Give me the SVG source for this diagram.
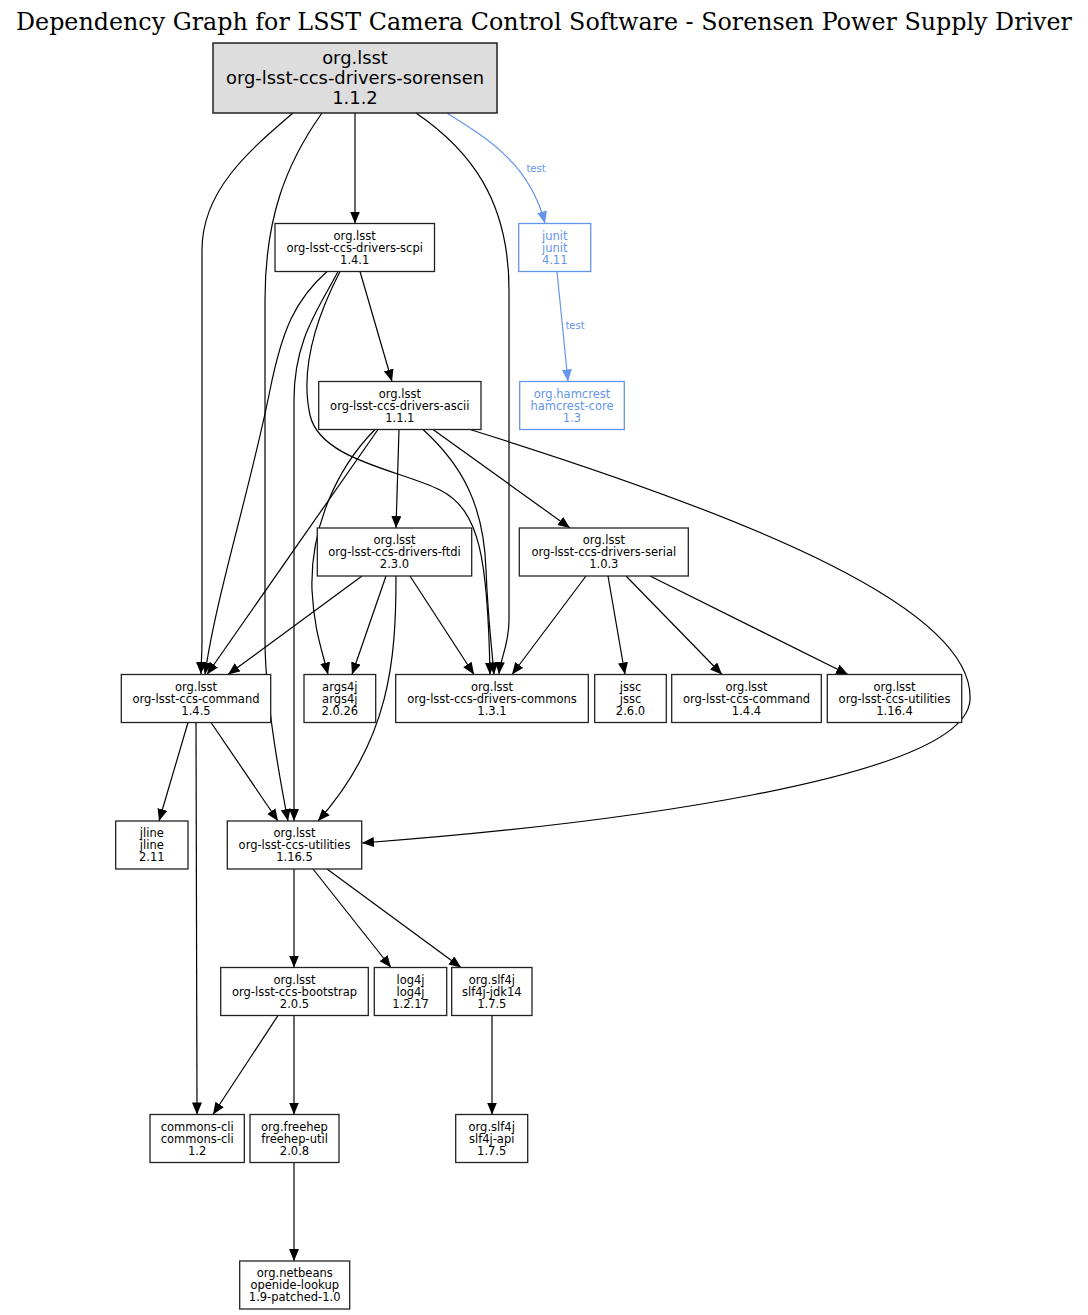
<svg xmlns="http://www.w3.org/2000/svg" width="1088" height="1315" viewBox="0 0 1088 1315">
<style>
.n rect{fill:#fff;stroke:#222;stroke-width:1.3}
.n text{font-family:"DejaVu Sans",sans-serif;font-size:11.5px;text-anchor:middle;fill:#000}
.root rect{fill:#dddddd;stroke:#222;stroke-width:1.5}
.root text{font-size:17.9px}
.b rect{stroke:#6495ED}
.b text{fill:#6495ED}
.e path{fill:none;stroke:#000;stroke-width:1.2;marker-end:url(#ah)}
.e path.bl{stroke:#6495ED;marker-end:url(#ahb)}
.lbl{font-family:"DejaVu Sans",sans-serif;font-size:10px;fill:#6495ED;text-anchor:middle}
.title{font-family:"DejaVu Serif",serif;font-size:23.5px;text-anchor:middle;fill:#000}
</style>
<defs>
<marker id="ah" markerUnits="userSpaceOnUse" markerWidth="13" markerHeight="11" refX="12" refY="5" orient="auto"><path d="M0,0 L12,5 L0,10 Z" fill="#000"/></marker>
<marker id="ahb" markerUnits="userSpaceOnUse" markerWidth="13" markerHeight="11" refX="12" refY="5" orient="auto"><path d="M0,0 L12,5 L0,10 Z" fill="#6495ED"/></marker>
</defs>
<rect width="1088" height="1315" fill="#fff"/>
<text class="title" x="544" y="30" textLength="1056" lengthAdjust="spacingAndGlyphs">Dependency Graph for LSST Camera Control Software - Sorensen Power Supply Driver</text>

<g id="edges" class="e">
<path d="M293,113 C250,150 202,190 202,250 L202,640 C202,655 201,665 201,674"/>
<path d="M322,113 C285,165 265,220 265,300 L265,640 C265,700 280,780 288,821"/>
<path d="M355,113 L355,223.5"/>
<path d="M416,113 C470,150 509,200 509,290 L509,620 C509,645 500,660 499,674"/>
<path class="bl" d="M447,113 C490,140 530,165 545,223.5"/>
<path d="M327,271.5 C295,300 282,330 270,390 C250,490 215,600 205,674.5"/>
<path d="M338,271.5 C318,310 294,340 294,400 L294,821"/>
<path d="M340,271.5 C315,320 300,370 310,415 C320,460 400,470 440,490 C480,510 488,560 490,674.5"/>
<path d="M360,271.5 L392,381.5"/>
<path class="bl" d="M557,271.5 L568,381.5"/>
<path d="M378,429.5 L207,674.5"/>
<path d="M375,429.5 C335,470 310,530 312,590 C314,630 322,650 328,674.5"/>
<path d="M399,429.5 L396,528"/>
<path d="M423,429.5 C462,465 484,505 486,570 C488,620 492,650 494,674.5"/>
<path d="M433,429.5 L570,528"/>
<path d="M470,429.5 C760,520 975,610 970,700 C965,780 600,825 362,843"/>
<path d="M362,576 L228,674.5"/>
<path d="M386,576 L352,674.5"/>
<path d="M410,576 L474,674.5"/>
<path d="M396,576 C396,660 390,740 318,821"/>
<path d="M586,576 L512,674.5"/>
<path d="M608,576 L625,674.5"/>
<path d="M626,576 L722,674.5"/>
<path d="M650,576 L848,674.5"/>
<path d="M188,722.5 L159,821"/>
<path d="M211,722.5 L278,821"/>
<path d="M196,722.5 L197,1114.5"/>
<path d="M294,869 L294,967.5"/>
<path d="M313,869 L391,967.5"/>
<path d="M327,869 L461,967.5"/>
<path d="M278,1015.5 L213,1114.5"/>
<path d="M294,1015.5 L294,1114.5"/>
<path d="M492,1015.5 L492,1114.5"/>
<path d="M294,1162.5 L294,1261"/>
<text class="lbl" x="536" y="172">test</text>
<text class="lbl" x="575" y="329">test</text>
</g>

<g id="root" class="n root"><rect x="213" y="43" width="284" height="70"/><text><tspan x="355" y="63.5">org.lsst</tspan><tspan x="355" y="83.5">org-lsst-ccs-drivers-sorensen</tspan><tspan x="355" y="103.5">1.1.2</tspan></text></g>

<g id="scpi" class="n"><rect x="275" y="223.5" width="159.5" height="48"/><text><tspan x="354.7" y="239.5">org.lsst</tspan><tspan x="354.7" y="251.5">org-lsst-ccs-drivers-scpi</tspan><tspan x="354.7" y="263.5">1.4.1</tspan></text></g>

<g id="junit" class="n b"><rect x="518.7" y="223.5" width="72" height="48"/><text><tspan x="554.7" y="239.5">junit</tspan><tspan x="554.7" y="251.5">junit</tspan><tspan x="554.7" y="263.5">4.11</tspan></text></g>

<g id="hamcrest" class="n b"><rect x="519.7" y="381.5" width="104.6" height="48"/><text><tspan x="572" y="397.5">org.hamcrest</tspan><tspan x="572" y="409.5">hamcrest-core</tspan><tspan x="572" y="421.5">1.3</tspan></text></g>

<g id="ascii" class="n"><rect x="318.7" y="381.5" width="162.3" height="48"/><text><tspan x="399.8" y="397.5">org.lsst</tspan><tspan x="399.8" y="409.5">org-lsst-ccs-drivers-ascii</tspan><tspan x="399.8" y="421.5">1.1.1</tspan></text></g>

<g id="ftdi" class="n"><rect x="317.3" y="528" width="154.4" height="48"/><text><tspan x="394.5" y="544">org.lsst</tspan><tspan x="394.5" y="556">org-lsst-ccs-drivers-ftdi</tspan><tspan x="394.5" y="568">2.3.0</tspan></text></g>

<g id="serial" class="n"><rect x="519.3" y="528" width="169" height="48"/><text><tspan x="603.8" y="544">org.lsst</tspan><tspan x="603.8" y="556">org-lsst-ccs-drivers-serial</tspan><tspan x="603.8" y="568">1.0.3</tspan></text></g>

<g id="command145" class="n"><rect x="121.3" y="674.5" width="149.4" height="48"/><text><tspan x="196" y="690.5">org.lsst</tspan><tspan x="196" y="702.5">org-lsst-ccs-command</tspan><tspan x="196" y="714.5">1.4.5</tspan></text></g>

<g id="args4j" class="n"><rect x="304" y="674.5" width="71.7" height="48"/><text><tspan x="339.8" y="690.5">args4j</tspan><tspan x="339.8" y="702.5">args4j</tspan><tspan x="339.8" y="714.5">2.0.26</tspan></text></g>

<g id="commons" class="n"><rect x="395.7" y="674.5" width="192.6" height="48"/><text><tspan x="492" y="690.5">org.lsst</tspan><tspan x="492" y="702.5">org-lsst-ccs-drivers-commons</tspan><tspan x="492" y="714.5">1.3.1</tspan></text></g>

<g id="jssc" class="n"><rect x="594.7" y="674.5" width="71.6" height="48"/><text><tspan x="630.5" y="690.5">jssc</tspan><tspan x="630.5" y="702.5">jssc</tspan><tspan x="630.5" y="714.5">2.6.0</tspan></text></g>

<g id="command144" class="n"><rect x="671.7" y="674.5" width="149.6" height="48"/><text><tspan x="746.5" y="690.5">org.lsst</tspan><tspan x="746.5" y="702.5">org-lsst-ccs-command</tspan><tspan x="746.5" y="714.5">1.4.4</tspan></text></g>

<g id="utilities1164" class="n"><rect x="827.3" y="674.5" width="134.4" height="48"/><text><tspan x="894.5" y="690.5">org.lsst</tspan><tspan x="894.5" y="702.5">org-lsst-ccs-utilities</tspan><tspan x="894.5" y="714.5">1.16.4</tspan></text></g>

<g id="jline" class="n"><rect x="115.7" y="821" width="72.3" height="48"/><text><tspan x="151.8" y="837">jline</tspan><tspan x="151.8" y="849">jline</tspan><tspan x="151.8" y="861">2.11</tspan></text></g>

<g id="utilities1165" class="n"><rect x="227.3" y="821" width="134.4" height="48"/><text><tspan x="294.5" y="837">org.lsst</tspan><tspan x="294.5" y="849">org-lsst-ccs-utilities</tspan><tspan x="294.5" y="861">1.16.5</tspan></text></g>

<g id="bootstrap" class="n"><rect x="220.7" y="967.5" width="147.6" height="48"/><text><tspan x="294.5" y="983.5">org.lsst</tspan><tspan x="294.5" y="995.5">org-lsst-ccs-bootstrap</tspan><tspan x="294.5" y="1007.5">2.0.5</tspan></text></g>

<g id="log4j" class="n"><rect x="374.3" y="967.5" width="72.4" height="48"/><text><tspan x="410.5" y="983.5">log4j</tspan><tspan x="410.5" y="995.5">log4j</tspan><tspan x="410.5" y="1007.5">1.2.17</tspan></text></g>

<g id="slf4jjdk14" class="n"><rect x="451.7" y="967.5" width="80.3" height="48"/><text><tspan x="491.8" y="983.5">org.slf4j</tspan><tspan x="491.8" y="995.5">slf4j-jdk14</tspan><tspan x="491.8" y="1007.5">1.7.5</tspan></text></g>

<g id="commonscli" class="n"><rect x="150" y="1114.5" width="94.3" height="48"/><text><tspan x="197.2" y="1130.5">commons-cli</tspan><tspan x="197.2" y="1142.5">commons-cli</tspan><tspan x="197.2" y="1154.5">1.2</tspan></text></g>

<g id="freehep" class="n"><rect x="250" y="1114.5" width="89" height="48"/><text><tspan x="294.5" y="1130.5">org.freehep</tspan><tspan x="294.5" y="1142.5">freehep-util</tspan><tspan x="294.5" y="1154.5">2.0.8</tspan></text></g>

<g id="slf4japi" class="n"><rect x="455.7" y="1114.5" width="72" height="48"/><text><tspan x="491.7" y="1130.5">org.slf4j</tspan><tspan x="491.7" y="1142.5">slf4j-api</tspan><tspan x="491.7" y="1154.5">1.7.5</tspan></text></g>

<g id="netbeans" class="n"><rect x="239.7" y="1261" width="110" height="48"/><text><tspan x="294.7" y="1277">org.netbeans</tspan><tspan x="294.7" y="1289">openide-lookup</tspan><tspan x="294.7" y="1301">1.9-patched-1.0</tspan></text></g>
</svg>
